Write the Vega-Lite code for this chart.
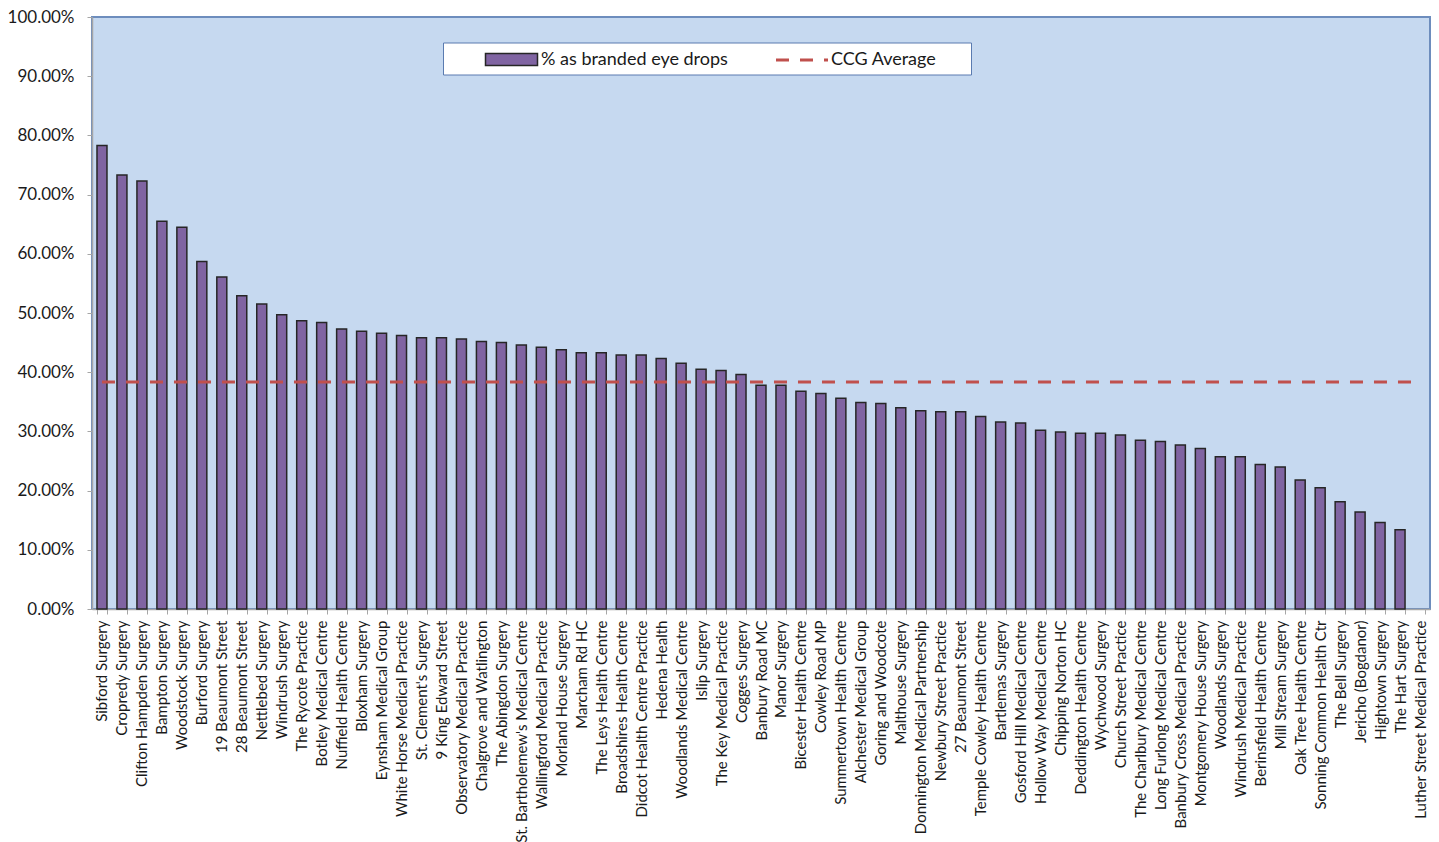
{
  "$schema": "https://vega.github.io/schema/vega-lite/v6.json",
  "autosize": {"type": "none"},
  "width": 1338,
  "height": 592,
  "padding": {"left": 92, "top": 17, "right": 9, "bottom": 233},
  "background": "white",
  "config": {
    "view": {"fill": "#c6d9f0", "stroke": "#6d8dbd", "strokeWidth": 2},
    "font": "Lato"
  },
  "data": {
    "values": [
      {"practice": "Sibford Surgery", "pct": 0.783, "avg": 0.3835},
      {"practice": "Cropredy Surgery", "pct": 0.733, "avg": 0.3835},
      {"practice": "Clifton Hampden Surgery", "pct": 0.723, "avg": 0.3835},
      {"practice": "Bampton Surgery", "pct": 0.655, "avg": 0.3835},
      {"practice": "Woodstock Surgery", "pct": 0.645, "avg": 0.3835},
      {"practice": "Burford Surgery", "pct": 0.587, "avg": 0.3835},
      {"practice": "19 Beaumont Street", "pct": 0.561, "avg": 0.3835},
      {"practice": "28 Beaumont Street", "pct": 0.529, "avg": 0.3835},
      {"practice": "Nettlebed Surgery", "pct": 0.515, "avg": 0.3835},
      {"practice": "Windrush Surgery", "pct": 0.497, "avg": 0.3835},
      {"practice": "The Rycote Practice", "pct": 0.487, "avg": 0.3835},
      {"practice": "Botley Medical Centre", "pct": 0.484, "avg": 0.3835},
      {"practice": "Nuffield Health Centre", "pct": 0.473, "avg": 0.3835},
      {"practice": "Bloxham Surgery", "pct": 0.469, "avg": 0.3835},
      {"practice": "Eynsham Medical Group", "pct": 0.466, "avg": 0.3835},
      {"practice": "White Horse Medical Practice", "pct": 0.462, "avg": 0.3835},
      {"practice": "St. Clement's Surgery", "pct": 0.458, "avg": 0.3835},
      {"practice": "9 King Edward Street", "pct": 0.458, "avg": 0.3835},
      {"practice": "Observatory Medical Practice", "pct": 0.456, "avg": 0.3835},
      {"practice": "Chalgrove and Watlington", "pct": 0.452, "avg": 0.3835},
      {"practice": "The Abingdon Surgery", "pct": 0.450, "avg": 0.3835},
      {"practice": "St. Bartholemew's Medical Centre", "pct": 0.446, "avg": 0.3835},
      {"practice": "Wallingford Medical Practice", "pct": 0.442, "avg": 0.3835},
      {"practice": "Morland House Surgery", "pct": 0.438, "avg": 0.3835},
      {"practice": "Marcham Rd HC", "pct": 0.433, "avg": 0.3835},
      {"practice": "The Leys Health Centre", "pct": 0.433, "avg": 0.3835},
      {"practice": "Broadshires Health Centre", "pct": 0.429, "avg": 0.3835},
      {"practice": "Didcot Health Centre Practice", "pct": 0.429, "avg": 0.3835},
      {"practice": "Hedena Health", "pct": 0.423, "avg": 0.3835},
      {"practice": "Woodlands Medical Centre", "pct": 0.415, "avg": 0.3835},
      {"practice": "Islip Surgery", "pct": 0.405, "avg": 0.3835},
      {"practice": "The Key Medical Practice", "pct": 0.403, "avg": 0.3835},
      {"practice": "Cogges Surgery", "pct": 0.396, "avg": 0.3835},
      {"practice": "Banbury Road MC", "pct": 0.378, "avg": 0.3835},
      {"practice": "Manor Surgery", "pct": 0.378, "avg": 0.3835},
      {"practice": "Bicester Health Centre", "pct": 0.368, "avg": 0.3835},
      {"practice": "Cowley Road MP", "pct": 0.364, "avg": 0.3835},
      {"practice": "Summertown Health Centre", "pct": 0.356, "avg": 0.3835},
      {"practice": "Alchester Medical Group", "pct": 0.349, "avg": 0.3835},
      {"practice": "Goring and Woodcote", "pct": 0.347, "avg": 0.3835},
      {"practice": "Malthouse Surgery", "pct": 0.340, "avg": 0.3835},
      {"practice": "Donnington Medical Partnership", "pct": 0.335, "avg": 0.3835},
      {"practice": "Newbury Street Practice", "pct": 0.333, "avg": 0.3835},
      {"practice": "27 Beaumont Street", "pct": 0.333, "avg": 0.3835},
      {"practice": "Temple Cowley Health Centre", "pct": 0.325, "avg": 0.3835},
      {"practice": "Bartlemas Surgery", "pct": 0.316, "avg": 0.3835},
      {"practice": "Gosford Hill Medical Centre", "pct": 0.314, "avg": 0.3835},
      {"practice": "Hollow Way Medical Centre", "pct": 0.302, "avg": 0.3835},
      {"practice": "Chipping Norton HC", "pct": 0.299, "avg": 0.3835},
      {"practice": "Deddington Health Centre", "pct": 0.297, "avg": 0.3835},
      {"practice": "Wychwood Surgery", "pct": 0.297, "avg": 0.3835},
      {"practice": "Church Street Practice", "pct": 0.294, "avg": 0.3835},
      {"practice": "The Charlbury Medical Centre", "pct": 0.285, "avg": 0.3835},
      {"practice": "Long Furlong Medical Centre", "pct": 0.283, "avg": 0.3835},
      {"practice": "Banbury Cross Medical Practice", "pct": 0.277, "avg": 0.3835},
      {"practice": "Montgomery House Surgery", "pct": 0.271, "avg": 0.3835},
      {"practice": "Woodlands Surgery", "pct": 0.257, "avg": 0.3835},
      {"practice": "Windrush Medical Practice", "pct": 0.257, "avg": 0.3835},
      {"practice": "Berinsfield Health Centre", "pct": 0.244, "avg": 0.3835},
      {"practice": "Mill Stream Surgery", "pct": 0.240, "avg": 0.3835},
      {"practice": "Oak Tree Health Centre", "pct": 0.218, "avg": 0.3835},
      {"practice": "Sonning Common Health Ctr", "pct": 0.205, "avg": 0.3835},
      {"practice": "The Bell Surgery", "pct": 0.181, "avg": 0.3835},
      {"practice": "Jericho (Bogdanor)", "pct": 0.164, "avg": 0.3835},
      {"practice": "Hightown Surgery", "pct": 0.146, "avg": 0.3835},
      {"practice": "The Hart Surgery", "pct": 0.134, "avg": 0.3835},
      {"practice": "Luther Street Medical Practice", "pct": 0, "avg": 0.3835}
    ]
  },
  "encoding": {
    "x": {
      "field": "practice",
      "type": "nominal",
      "sort": null,
      "scale": {"paddingInner": 0.5, "paddingOuter": 0.25},
      "axis": {
        "title": null,
        "labelAngle": -90,
        "labelAlign": "right",
        "labelBaseline": "middle",
        "labelFont": "Lato",
        "labelFontSize": 15,
        "labelColor": "#1a1a1a",
        "labelPadding": 6,
        "labelLimit": 400,
        "tickBand": "extent",
        "tickSize": 5,
        "tickColor": "#a6a6a6",
        "domainColor": "#a6a6a6",
        "domainWidth": 1.5,
        "grid": false
      }
    }
  },
  "layer": [
    {
      "mark": {"type": "bar", "stroke": "#262626", "strokeWidth": 1.5},
      "encoding": {
        "y": {
          "field": "pct",
          "type": "quantitative",
          "scale": {"domain": [0, 1], "nice": false},
          "axis": {
            "title": null,
            "format": ".2%",
            "values": [0, 0.1, 0.2, 0.3, 0.4, 0.5, 0.6, 0.7, 0.8, 0.9, 1],
            "grid": false,
            "labelFont": "Lato",
            "labelFontSize": 17,
            "labelColor": "#1a1a1a",
            "labelPadding": 13,
            "tickSize": 5,
            "tickColor": "#a6a6a6",
            "domainColor": "#a6a6a6",
            "domainWidth": 1.5
          }
        },
        "strokeOpacity": {"condition": {"test": "datum.pct == 0", "value": 0}, "value": 1},
        "color": {
          "datum": "% as branded eye drops",
          "type": "nominal",
          "scale": {"domain": ["% as branded eye drops"], "range": ["#8064a2"]},
          "legend": {
            "orient": "none",
            "legendX": 351,
            "legendY": 25.5,
            "direction": "horizontal",
            "title": "x",
            "titleOrient": "right",
            "titleColor": "white",
            "titleFontSize": 10,
            "titlePadding": 231,
            "fillColor": "white",
            "strokeColor": "#5a7bb0",
            "padding": 6,
            "symbolType": "M2.55,-0.6H7.75V0.6H2.55Z",
            "symbolSize": 400,
            "symbolStrokeColor": "#262626",
            "symbolStrokeWidth": 1.5,
            "symbolOpacity": 1,
            "labelFont": "Lato",
            "labelFontSize": 18,
            "labelColor": "#1a1a1a",
            "labelOffset": 70,
            "labelLimit": 400
          }
        }
      }
    },
    {
      "mark": {"type": "line", "strokeWidth": 3, "strokeDash": [13, 11]},
      "encoding": {
        "y": {"field": "avg", "type": "quantitative"},
        "stroke": {
          "datum": "CCG Average",
          "type": "nominal",
          "scale": {"domain": ["CCG Average"], "range": ["#c0504d"]},
          "legend": {
            "orient": "none",
            "legendX": 641,
            "legendY": 25.5,
            "direction": "horizontal",
            "title": null,
            "padding": 6,
            "symbolType": "M2.55,0H7.75",
            "symbolSize": 400,
            "symbolStrokeWidth": 3,
            "symbolDash": [13, 11],
            "symbolFillColor": "transparent",
            "symbolOpacity": 1,
            "labelFont": "Lato",
            "labelFontSize": 18,
            "labelColor": "#1a1a1a",
            "labelOffset": 69,
            "labelLimit": 400
          }
        }
      }
    }
  ]
}
